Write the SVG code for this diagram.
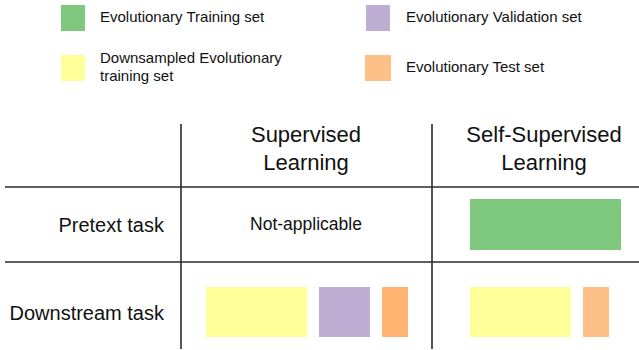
<svg xmlns="http://www.w3.org/2000/svg" width="639" height="350" viewBox="0 0 639 350">
<style>
text{font-family:"Liberation Sans",Arial,sans-serif;fill:#111}
.leg{font-size:15px}
.hdr{font-size:22px;text-anchor:middle}
.row{font-size:20px;text-anchor:end}
.na{font-size:17.5px;text-anchor:middle}
.grid line{stroke:#2a2a2a;stroke-width:1.6}
.green{fill:#7fc97f}.purple{fill:#beaed4}.orange{fill:#fdc086}.yellow{fill:#ffff99}.orange2{fill:#ffb471}
</style>
<rect width="639" height="350" fill="#fff"/>
<g id="legend">
<g id="leg-train"><rect class="green" x="61" y="5" width="24" height="26"/><text class="leg" x="100" y="22">Evolutionary Training set</text></g>
<g id="leg-down"><rect class="yellow" x="61" y="55" width="24" height="26"/><text class="leg" x="100" y="63">Downsampled Evolutionary</text><text class="leg" x="100" y="81">training set</text></g>
<g id="leg-val"><rect class="purple" x="366" y="5" width="24" height="26"/><text class="leg" x="406" y="22">Evolutionary Validation set</text></g>
<g id="leg-test"><rect class="orange" x="365" y="55" width="26" height="26"/><text class="leg" x="406" y="72">Evolutionary Test set</text></g>
</g>
<g id="connectors" class="grid">
<line x1="181" y1="124" x2="181" y2="349"/>
<line x1="432" y1="124" x2="432" y2="349"/>
<line x1="5" y1="187" x2="639" y2="187"/>
<line x1="5" y1="262" x2="639" y2="262"/>
</g>
<g id="hdr-sup"><text class="hdr" x="306" y="142">Supervised</text><text class="hdr" x="306" y="170">Learning</text></g>
<g id="hdr-ssl"><text class="hdr" x="544" y="142">Self-Supervised</text><text class="hdr" x="544" y="170">Learning</text></g>
<g id="row-pretext"><text class="row" x="164" y="232">Pretext task</text></g>
<g id="row-down"><text class="row" x="164" y="320">Downstream task</text></g>
<g id="pretext-sup"><text class="na" x="306" y="230">Not-applicable</text></g>
<g id="pretext-ssl"><rect class="green" x="470" y="199" width="151" height="51"/></g>
<g id="down-sup">
<rect class="yellow" x="206" y="287" width="101" height="50"/>
<rect class="purple" x="319" y="287" width="51" height="50"/>
<rect class="orange2" x="382" y="287" width="26" height="50"/>
</g>
<g id="down-ssl">
<rect class="yellow" x="470" y="287" width="101" height="50"/>
<rect class="orange" x="583" y="287" width="26" height="50"/>
</g>
</svg>
